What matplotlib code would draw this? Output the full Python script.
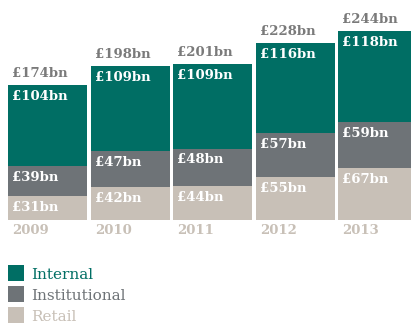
import matplotlib
matplotlib.use("Agg")
import matplotlib.pyplot as plt
from matplotlib.patches import Rectangle

years = ["2009", "2010", "2011", "2012", "2013"]
retail = [31, 42, 44, 55, 67]
institutional = [39, 47, 48, 57, 59]
internal = [104, 109, 109, 116, 118]
totals = [174, 198, 201, 228, 244]

series_names = ["Internal", "Institutional", "Retail"]
c_internal = "#006e64"
c_instit = "#6e7377"
c_retail = "#c8c0b7"
c_total = "#7a7a7a"

W, H = 411, 324
fig = plt.figure(figsize=(W / 100, H / 100), dpi=100)

# axes in pixel terms: baseline at y=220 from top, 0.776 px per £bn
ppu = 0.776
y_top_val = 250
ax_bottom_px = H - 220
ax_h_px = y_top_val * ppu
ax = fig.add_axes([0, ax_bottom_px / H, 1, ax_h_px / H])
ax.set_ylim(0, y_top_val)

spacing = 82.5
first_center = 47.5
ax.set_xlim(-first_center / spacing, (W - first_center) / spacing)
ax.axis("off")

x = list(range(len(years)))
bw = 79 / spacing
font = "DejaVu Serif"

layers = [(retail, c_retail), (institutional, c_instit), (internal, c_internal)]
bottoms = [0] * len(years)
for vals, col in layers:
    ax.bar(x, vals, width=bw, bottom=bottoms, color=col, align="center", linewidth=0)
    for i, v in enumerate(vals):
        ax.annotate(f"£{v}bn", xy=(x[i] - bw / 2, bottoms[i] + v),
                    xytext=(3, -3.5), textcoords="offset points",
                    ha="left", va="top", color="white", fontsize=9.5,
                    fontweight="bold", family=font)
    bottoms = [b + v for b, v in zip(bottoms, vals)]

for i, t in enumerate(totals):
    ax.annotate(f"£{t}bn", xy=(x[i] - bw / 2, t),
                xytext=(3, 5.8), textcoords="offset points",
                ha="left", va="baseline", color=c_total, fontsize=9.5,
                fontweight="bold", family=font)
    ax.annotate(years[i], xy=(x[i] - bw / 2, 0),
                xytext=(3, -3), textcoords="offset points",
                ha="left", va="top", color=c_retail, fontsize=9.5,
                fontweight="bold", family=font)

# legend drawn in figure pixel positions
legend_cols = [c_internal, c_instit, c_retail]
for k, (name, col) in enumerate(zip(series_names, legend_cols)):
    top = 265 + k * 21
    fig.add_artist(Rectangle((8 / W, (H - top - 16) / H), 16 / W, 16 / H,
                             transform=fig.transFigure, color=col, lw=0))
    fig.text(31 / W, (H - top - 14) / H, name, color=col, fontsize=11,
             family=font, ha="left", va="baseline")

fig.savefig("out.png", dpi=100)
